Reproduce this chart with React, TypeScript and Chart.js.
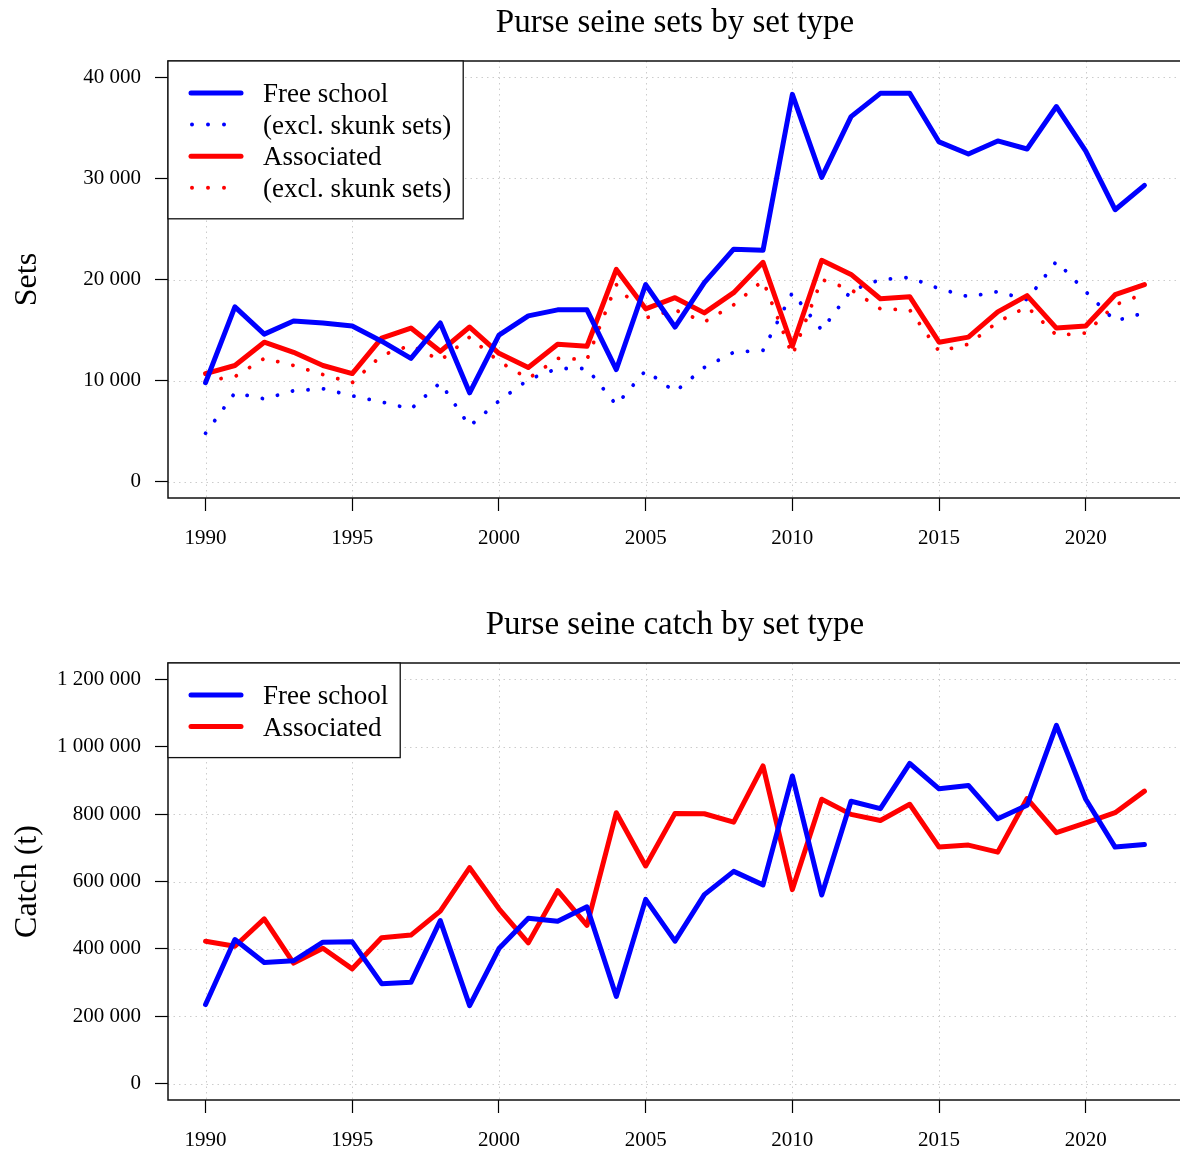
import React, { useEffect, useRef } from 'react';
import { Chart, registerables } from 'chart.js';

Chart.register(...registerables);

const FONT = '"Liberation Serif", "DejaVu Serif", serif';

const YEARS = [
  1990, 1991, 1992, 1993, 1994, 1995, 1996, 1997, 1998, 1999,
  2000, 2001, 2002, 2003, 2004, 2005, 2006, 2007, 2008, 2009,
  2010, 2011, 2012, 2013, 2014, 2015, 2016, 2017, 2018, 2019,
  2020, 2021, 2022,
];

const SETS_FREE = [
  9800, 17300, 14600, 15900, 15700, 15400, 13900, 12200, 15700, 8800,
  14500, 16400, 17000, 17000, 11100, 19500, 15300, 19700, 23000, 22900,
  38300, 30100, 36100, 38400, 38400, 33600, 32400, 33700, 32900, 37100,
  32700, 26900, 29300,
];
const SETS_FREE_EXCL = [
  4800, 8800, 8200, 9000, 9200, 8500, 7900, 7200, 9800, 5500,
  8000, 10100, 11200, 11200, 7600, 11000, 8900, 11300, 12800, 13000,
  18700, 15000, 18900, 20000, 20200, 19100, 18300, 18800, 18000, 21800,
  18800, 15900, 16700,
];
const SETS_ASSOC = [
  10700, 11500, 13800, 12800, 11500, 10700, 14200, 15200, 12900, 15300,
  12700, 11300, 13600, 13400, 21000, 17100, 18200, 16700, 18700, 21700,
  13400, 21900, 20500, 18100, 18300, 13800, 14300, 16800, 18400, 15200,
  15400, 18500, 19500,
];
const SETS_ASSOC_EXCL = [
  10000, 10400, 12200, 11500, 10600, 9800, 12500, 13500, 12000, 14300,
  11900, 10200, 12200, 12100, 19500, 16200, 17000, 15800, 17500, 19900,
  12500, 20000, 19000, 17100, 17000, 12900, 13600, 15800, 17300, 14500,
  14700, 17500, 18600,
];

const CATCH_FREE = [
  235000, 428000, 360000, 365000, 420000, 421000, 297000, 301000, 484000, 232000,
  401000, 491000, 482000, 525000, 259000, 547000, 423000, 561000, 630000, 590000,
  913000, 560000, 838000, 816000, 950000, 875000, 885000, 786000, 826000, 1063000,
  844000, 702000, 710000,
];
const CATCH_ASSOC = [
  423000, 408000, 489000, 358000, 402000, 341000, 433000, 441000, 512000, 641000,
  519000, 418000, 573000, 470000, 804000, 646000, 802000, 801000, 776000, 943000,
  576000, 844000, 799000, 781000, 829000, 702000, 708000, 687000, 846000, 745000,
  774000, 804000, 868000,
];

const X_TICKS = [1990, 1995, 2000, 2005, 2010, 2015, 2020];
const SETS_Y_TICKS = [0, 10000, 20000, 30000, 40000];
const CATCH_Y_TICKS = [0, 200000, 400000, 600000, 800000, 1000000, 1200000];

const SETS_LEGEND = ['Free school', '(excl. skunk sets)', 'Associated', '(excl. skunk sets)'];
const CATCH_LEGEND = ['Free school', 'Associated'];

const BLUE = '#0000ff';
const RED = '#ff0000';

const fmtThousands = (v: number) =>
  String(Math.round(v)).replace(/\B(?=(\d{3})+(?!\d))/g, ' ');

const toPoints = (vals: number[]) => YEARS.map((x, i) => ({ x, y: vals[i] }));

type LegendItem = { label: string; color: string; dotted: boolean };

function makeDecor(opts: {
  title: string;
  yTitle: string;
  yTicks: number[];
  legend: LegendItem[];
}) {
  return {
    id: 'decor',
    beforeDatasetsDraw(chart: any) {
      const { ctx, chartArea: a, scales } = chart;
      ctx.save();
      ctx.strokeStyle = '#cccccc';
      ctx.lineWidth = 1;
      ctx.setLineDash([1.5, 4]);
      for (const t of X_TICKS) {
        const x = Math.round(scales.x.getPixelForValue(t)) + 0.5;
        ctx.beginPath();
        ctx.moveTo(x, a.top);
        ctx.lineTo(x, a.bottom);
        ctx.stroke();
      }
      for (const t of opts.yTicks) {
        const y = Math.round(scales.y.getPixelForValue(t)) + 0.5;
        ctx.beginPath();
        ctx.moveTo(a.left, y);
        ctx.lineTo(a.right, y);
        ctx.stroke();
      }
      ctx.restore();
    },
    afterDatasetsDraw(chart: any) {
      const { ctx, chartArea: a } = chart;
      ctx.save();
      ctx.strokeStyle = '#111';
      ctx.lineWidth = 1.5;
      ctx.strokeRect(a.left, a.top, a.right - a.left, a.bottom - a.top);

      const items = opts.legend;
      ctx.font = `27px ${FONT}`;
      const maxW = Math.max(...items.map((it) => ctx.measureText(it.label).width));
      const lx = a.left;
      const ly = a.top;
      const textX = lx + 95;
      const w = 95 + maxW + 12;
      const rowH = 31.6;
      const h = 32 + rowH * (items.length - 1) + 31;
      ctx.fillStyle = '#fff';
      ctx.fillRect(lx, ly, w, h);
      ctx.strokeStyle = '#111';
      ctx.lineWidth = 1.3;
      ctx.strokeRect(lx, ly, w, h);
      items.forEach((it, i) => {
        const y = ly + 32 + rowH * i;
        if (it.dotted) {
          ctx.fillStyle = it.color;
          [24, 40, 56].forEach((dx) => {
            ctx.beginPath();
            ctx.arc(lx + dx, y, 2, 0, Math.PI * 2);
            ctx.fill();
          });
        } else {
          ctx.strokeStyle = it.color;
          ctx.lineWidth = 5;
          ctx.lineCap = 'round';
          ctx.beginPath();
          ctx.moveTo(lx + 23, y);
          ctx.lineTo(lx + 73, y);
          ctx.stroke();
        }
        ctx.fillStyle = '#000';
        ctx.textAlign = 'left';
        ctx.textBaseline = 'alphabetic';
        ctx.fillText(it.label, textX, y + 9);
      });
      ctx.restore();
    },
    afterDraw(chart: any) {
      const { ctx, chartArea: a } = chart;
      ctx.save();
      ctx.fillStyle = '#000';
      ctx.font = `33px ${FONT}`;
      ctx.textAlign = 'center';
      ctx.textBaseline = 'alphabetic';
      ctx.fillText(opts.title, (a.left + a.right) / 2, a.top - 29.5);
      ctx.font = `32px ${FONT}`;
      ctx.translate(36, (a.top + a.bottom) / 2);
      ctx.rotate(-Math.PI / 2);
      ctx.fillText(opts.yTitle, 0, 0);
      ctx.restore();
    },
  };
}

function buildConfig(p: {
  datasets: any[];
  yMin: number;
  yMax: number;
  yTicks: number[];
  padTop: number;
  xAxisH: number;
  title: string;
  yTitle: string;
  legend: LegendItem[];
}) {
  return {
    type: 'line' as const,
    data: { datasets: p.datasets },
    options: {
      responsive: false,
      maintainAspectRatio: false,
      devicePixelRatio: 1,
      animation: false,
      layout: { padding: { top: p.padTop, left: 0, right: 2, bottom: 0 } },
      plugins: {
        legend: { display: false },
        title: { display: false },
        tooltip: { enabled: false },
      },
      elements: { point: { radius: 0, hoverRadius: 0 }, line: { tension: 0 } },
      scales: {
        x: {
          type: 'linear',
          min: 1988.72,
          max: 2023.28,
          afterBuildTicks: (s: any) => {
            s.ticks = X_TICKS.map((v) => ({ value: v }));
          },
          afterFit: (s: any) => {
            s.height = p.xAxisH;
          },
          grid: {
            drawOnChartArea: false,
            drawTicks: true,
            tickLength: 13,
            tickColor: '#000',
            tickWidth: 1.2,
          },
          border: { display: false },
          ticks: {
            color: '#000',
            font: { family: FONT, size: 21 },
            padding: 15,
            maxRotation: 0,
            autoSkip: false,
            callback: (v: any) => String(v),
          },
        },
        y: {
          type: 'linear',
          min: p.yMin,
          max: p.yMax,
          afterBuildTicks: (s: any) => {
            s.ticks = p.yTicks.map((v) => ({ value: v }));
          },
          afterFit: (s: any) => {
            s.width = 168;
          },
          grid: {
            drawOnChartArea: false,
            drawTicks: true,
            tickLength: 13,
            tickColor: '#000',
            tickWidth: 1.2,
          },
          border: { display: false },
          ticks: {
            color: '#000',
            font: { family: FONT, size: 21 },
            padding: 14,
            autoSkip: false,
            callback: (v: any) => fmtThousands(Number(v)),
          },
        },
      },
    },
    plugins: [makeDecor({ title: p.title, yTitle: p.yTitle, yTicks: p.yTicks, legend: p.legend })],
  };
}

const solid = (label: string, vals: number[], color: string) => ({
  label,
  data: toPoints(vals),
  borderColor: color,
  backgroundColor: color,
  borderWidth: 5,
  borderCapStyle: 'round',
  borderJoinStyle: 'round',
  pointRadius: 0,
  fill: false,
});

const dotted = (label: string, vals: number[], color: string) => ({
  label,
  data: toPoints(vals),
  borderColor: color,
  backgroundColor: color,
  borderWidth: 3.8,
  borderDash: [0.1, 15.5],
  borderCapStyle: 'round',
  borderJoinStyle: 'round',
  pointRadius: 0,
  fill: false,
});

export default function App() {
  const topRef = useRef<HTMLCanvasElement | null>(null);
  const botRef = useRef<HTMLCanvasElement | null>(null);

  useEffect(() => {
    const top = new Chart(
      topRef.current as HTMLCanvasElement,
      buildConfig({
        datasets: [
          solid('Free school', SETS_FREE, BLUE),
          solid('Associated', SETS_ASSOC, RED),
          dotted('Free school (excl. skunk sets)', SETS_FREE_EXCL, BLUE),
          dotted('Associated (excl. skunk sets)', SETS_ASSOC_EXCL, RED),
        ],
        yMin: -1600,
        yMax: 41600,
        yTicks: SETS_Y_TICKS,
        padTop: 61,
        xAxisH: 78,
        title: 'Purse seine sets by set type',
        yTitle: 'Sets',
        legend: [
          { label: SETS_LEGEND[0], color: BLUE, dotted: false },
          { label: SETS_LEGEND[1], color: BLUE, dotted: true },
          { label: SETS_LEGEND[2], color: RED, dotted: false },
          { label: SETS_LEGEND[3], color: RED, dotted: true },
        ],
      }) as any
    );
    const bot = new Chart(
      botRef.current as HTMLCanvasElement,
      buildConfig({
        datasets: [
          solid('Free school', CATCH_FREE, BLUE),
          solid('Associated', CATCH_ASSOC, RED),
        ],
        yMin: -48000,
        yMax: 1248000,
        yTicks: CATCH_Y_TICKS,
        padTop: 87,
        xAxisH: 53,
        title: 'Purse seine catch by set type',
        yTitle: 'Catch (t)',
        legend: [
          { label: CATCH_LEGEND[0], color: BLUE, dotted: false },
          { label: CATCH_LEGEND[1], color: RED, dotted: false },
        ],
      }) as any
    );
    return () => {
      top.destroy();
      bot.destroy();
    };
  }, []);

  return (
    <div
      style={{
        position: 'absolute',
        left: 0,
        top: 0,
        width: 1180,
        height: 1153,
        overflow: 'hidden',
        background: '#fff',
      }}
    >
      <canvas ref={topRef} width={1184} height={576} style={{ display: 'block' }} />
      <canvas ref={botRef} width={1184} height={577} style={{ display: 'block' }} />
    </div>
  );
}
